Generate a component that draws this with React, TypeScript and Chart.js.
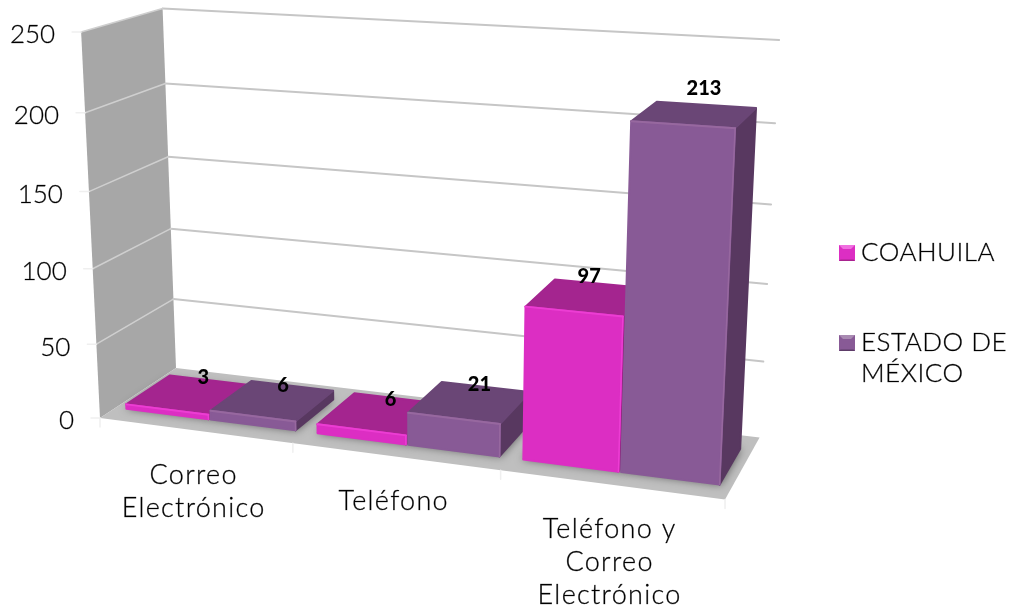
import React, { useEffect, useRef } from "react";
import { Chart, registerables } from "chart.js";

Chart.register(...registerables);

const categories: (string | string[])[] = [["Correo", "Electrónico"], "Teléfono", ["Teléfono y", "Correo", "Electrónico"]];
const coahuila = [3, 6, 97];
const estadoDeMexico = [6, 21, 213];
const seriesNames = ["COAHUILA", "ESTADO DE MÉXICO"];
const legendLines = [["COAHUILA"], ["ESTADO DE", "MÉXICO"]];
const yMax = 250;
const yStep = 50;

// Perspective camera (layout only): origin and the three vanishing points with their weights.
const O = [100, 418];
const VX = [-5100, -260];
const VY = [429, 7150];
const VZ = [1158, -278];
const AX = -0.1073;
const AY = -0.05423;
const AZ = 0.0774;
const BAR_Z0 = 0.2;
const BAR_Z1 = 0.78;

const FONT = "Lato, 'Open Sans', sans-serif";

const palettes = [
  { front: "#dc2ec3", top: "#a4258f", side: "#8d1f7b", edge: "#ec3dd3", legendTop: "#f06fe0", legendDark: "#a8238f" },
  { front: "#885a96", top: "#6a4676", side: "#583860", edge: "#97689f", legendTop: "#a98ab2", legendDark: "#5d3c68" },
];

// Label nudges in pixels relative to the projected bar-top back edge
const labelNudge = [
  [[-6, -3], [-6, 1], [-12, -7]],
  [[-9, 0], [-6, -2], [-2, -16]],
];

function project(X: number, Y: number, Z: number): [number, number] {
  const a = AX * X, b = AY * Y, c = AZ * Z;
  const d = a + b + c + 1;
  return [
    (a * VX[0] + b * VY[0] + c * VZ[0] + O[0]) / d,
    (a * VX[1] + b * VY[1] + c * VZ[1] + O[1]) / d,
  ];
}

function poly(ctx: CanvasRenderingContext2D, pts: [number, number][]) {
  ctx.beginPath();
  pts.forEach((p, i) => (i ? ctx.lineTo(p[0], p[1]) : ctx.moveTo(p[0], p[1])));
  ctx.closePath();
}

function line(ctx: CanvasRenderingContext2D, a: [number, number], b: [number, number], color: string, w: number) {
  ctx.strokeStyle = color;
  ctx.lineWidth = w;
  ctx.beginPath();
  ctx.moveTo(a[0], a[1]);
  ctx.lineTo(b[0], b[1]);
  ctx.stroke();
}

function face(ctx: CanvasRenderingContext2D, pts: [number, number][], color: string) {
  ctx.fillStyle = color;
  ctx.strokeStyle = color;
  ctx.lineWidth = 2;
  ctx.lineJoin = "round";
  poly(ctx, pts);
  ctx.fill();
  ctx.stroke();
}

function text(ctx: CanvasRenderingContext2D, s: string, x: number, y: number) {
  ctx.fillText(s, x, y);
  ctx.strokeText(s, x, y);
}

const scene3d = {
  id: "scene3d",
  beforeDatasetsDraw(chart: any) {
    const { ctx, chartArea: area, scales } = chart;
    const y = scales.y;
    const x = scales.x;
    const toY = (px: number) => (area.bottom - px) / (area.bottom - area.top);
    const toX = (px: number) => (px - area.left) / (area.right - area.left);
    ctx.save();

    // walls
    ctx.fillStyle = "#a7a7a7";
    poly(ctx, [project(0, 0, 0), project(0, 1, 0), project(0, 1, 1), project(0, 0, 1)]);
    ctx.fill();
    ctx.fillStyle = "#bfbfbf";
    poly(ctx, [project(0, 0, 0), project(1, 0, 0), project(1, 0, 1), project(0, 0, 1)]);
    ctx.fill();

    // grid
    ctx.lineCap = "round";
    y.ticks.forEach((t: any) => {
      const Y = toY(y.getPixelForValue(t.value));
      if (t.value > 0) {
        line(ctx, project(0, Y, 1), project(1, Y, 1), "#c6c6c6", 2);
        line(ctx, project(0, Y, 0), project(0, Y, 1), "#cfcfcf", 1.5);
      }
      const a = project(0, Y, 0);
      line(ctx, [a[0] - 9, a[1]], a, "#efefef", 1.5);
    });
    [0, 1, 2, 3].forEach((i) => {
      const a = project(i / 3, 0, 0);
      line(ctx, a, [a[0], a[1] + 9], "#efefef", 1.5);
    });

    // floor shadows then bars, left to right
    const items: any[] = [];
    chart.data.datasets.forEach((ds: any, di: number) => {
      chart.getDatasetMeta(di).data.forEach((el: any, i: number) => items.push({ el, di, i }));
    });
    items.sort((p, q) => p.el.x - q.el.x);

    items.forEach(({ el }) => {
      const X0 = toX(el.x - el.width / 2), X1 = toX(el.x + el.width / 2);
      ctx.save();
      ctx.shadowColor = "rgba(0,0,0,0.5)";
      ctx.shadowBlur = 9;
      ctx.fillStyle = "#8f8f8f";
      poly(ctx, [project(X0, 0, BAR_Z0), project(X1, 0, BAR_Z0), project(X1, 0, BAR_Z1), project(X0, 0, BAR_Z1)]);
      ctx.fill();
      ctx.restore();
    });

    items.forEach(({ el, di }) => {
      const pal = palettes[di];
      const X0 = toX(el.x - el.width / 2) + 0.002, X1 = toX(el.x + el.width / 2) - 0.002;
      const Y = toY(el.y);
      const f00 = project(X0, 0, BAR_Z0), f10 = project(X1, 0, BAR_Z0);
      const f01 = project(X0, Y, BAR_Z0), f11 = project(X1, Y, BAR_Z0);
      const b10 = project(X1, 0, BAR_Z1);
      const b01 = project(X0, Y, BAR_Z1), b11 = project(X1, Y, BAR_Z1);
      face(ctx, [f10, f11, b11, b10], pal.side);
      face(ctx, [f01, f11, b11, b01], pal.top);
      face(ctx, [f00, f10, f11, f01], pal.front);
      line(ctx, f01, f11, pal.edge, 2);
      line(ctx, f10, f11, pal.edge, 1.5);
    });

    // value labels
    ctx.fillStyle = "#000";
    ctx.font = `900 20px ${FONT}`;
    ctx.textAlign = "center";
    ctx.textBaseline = "middle";
    items.forEach(({ el, di, i }) => {
      const p = project(toX(el.x), toY(el.y), BAR_Z1);
      const n = labelNudge[di][i];
      ctx.fillText(String(chart.data.datasets[di].data[i]), p[0] + n[0], p[1] + n[1]);
    });

    // axis labels from the scales
    ctx.fillStyle = "#000";
    ctx.strokeStyle = "rgba(0,0,0,0.55)";
    ctx.lineWidth = 0.5;
    ctx.font = `300 26px ${FONT}`;
    ctx.textAlign = "right";
    y.ticks.forEach((t: any) => {
      const p = project(0, toY(y.getPixelForValue(t.value)), 0);
      text(ctx, String(t.label), p[0] - 26, p[1] + 3);
    });
    ctx.textAlign = "center";
    ctx.font = `300 27px ${FONT}`;
    (ctx as any).letterSpacing = "1.3px";
    x.ticks.forEach((t: any, i: number) => {
      const p = project(toX(x.getPixelForTick(i)), 0, 0);
      const lines = Array.isArray(t.label) ? t.label : [t.label];
      lines.forEach((s: string, k: number) => text(ctx, s, p[0] - 1, p[1] + 45 + k * 33));
    });

    // legend
    ctx.font = `300 26px ${FONT}`;
    (ctx as any).letterSpacing = "0.5px";
    ctx.textAlign = "left";
    const legendY = [253, 343];
    legendLines.forEach((ls, di) => {
      const pal = palettes[di];
      const x0 = 839, s = 16, y0 = legendY[di] - 8, b = 4;
      ctx.fillStyle = pal.front;
      ctx.fillRect(x0, y0, s, s);
      ctx.fillStyle = pal.legendTop;
      poly(ctx, [[x0, y0], [x0 + s, y0], [x0 + s - b, y0 + b], [x0 + b, y0 + b]]);
      ctx.fill();
      ctx.fillStyle = pal.legendDark;
      poly(ctx, [[x0, y0 + s], [x0 + s, y0 + s], [x0 + s - 1.5, y0 + s - 1.5], [x0 + 1.5, y0 + s - 1.5]]);
      ctx.fill();
      ctx.fillStyle = "#000";
      ls.forEach((s2, k) => text(ctx, s2, 861, legendY[di] + k * 31));
    });
    (ctx as any).letterSpacing = "0px";
    ctx.restore();
    return false; // the flat bars are replaced by the projected ones above
  },
};

export default function App() {
  const ref = useRef<HTMLCanvasElement>(null);
  useEffect(() => {
    if (!ref.current) return;
    const chart = new Chart(ref.current, {
      type: "bar",
      data: {
        labels: categories as any,
        datasets: [
          { label: seriesNames[0], data: coahuila, backgroundColor: palettes[0].front, categoryPercentage: 0.9, barPercentage: 1 },
          { label: seriesNames[1], data: estadoDeMexico, backgroundColor: palettes[1].front, categoryPercentage: 0.9, barPercentage: 1 },
        ],
      },
      options: {
        responsive: false,
        animation: false,
        layout: { padding: 0 },
        plugins: { legend: { display: false }, tooltip: { enabled: false }, title: { display: false } },
        scales: {
          x: { grid: { display: false }, border: { display: false }, ticks: { display: false, autoSkip: false } },
          y: {
            min: 0,
            max: yMax,
            grid: { display: false },
            border: { display: false },
            ticks: { display: false, stepSize: yStep },
          },
        },
      },
      plugins: [scene3d as any],
    });
    return () => chart.destroy();
  }, []);
  return (
    <div style={{ position: "absolute", left: 0, top: 0, width: 1009, height: 610, background: "#fff" }}>
      <canvas ref={ref} width={1009} height={610} style={{ display: "block" }} />
    </div>
  );
}
